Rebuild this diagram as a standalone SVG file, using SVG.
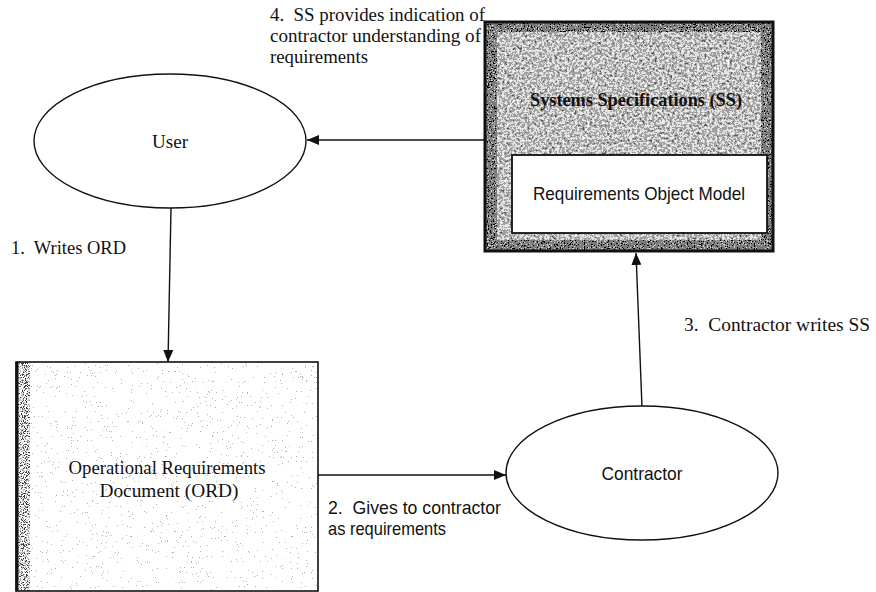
<svg xmlns="http://www.w3.org/2000/svg" width="876" height="592" viewBox="0 0 876 592">
<style>
.serif{font-family:"Liberation Serif","Times New Roman",serif;font-size:19px;fill:#111}
.sans{font-family:"Liberation Sans",Arial,sans-serif;font-size:19px;fill:#111}
.shape{fill:#fff;stroke:#111;stroke-width:1.4}
.conn{stroke:#111;stroke-width:1.4;fill:none}
</style>
<defs>
<marker id="ah" viewBox="0 0 12 10" refX="12" refY="5" markerWidth="12" markerHeight="10" markerUnits="userSpaceOnUse" orient="auto">
<path d="M0,0 L12,5 L0,10 Z" fill="#111"/>
</marker>
<filter id="darkSpeck" x="0" y="0" width="100%" height="100%">
<feTurbulence type="fractalNoise" baseFrequency="0.4" numOctaves="3" seed="4" result="n"/>
<feColorMatrix in="n" type="saturate" values="0" result="g"/>
<feComponentTransfer in="g" result="t">
<feFuncR type="discrete" tableValues="0 0.1 0.35 0.75 1 1"/>
<feFuncG type="discrete" tableValues="0 0.1 0.35 0.75 1 1"/>
<feFuncB type="discrete" tableValues="0 0.1 0.35 0.75 1 1"/>
<feFuncA type="linear" slope="0" intercept="1"/>
</feComponentTransfer>
<feComposite in="t" in2="SourceGraphic" operator="in"/>
</filter>
<filter id="edgeSpeck" x="0" y="0" width="100%" height="100%">
<feTurbulence type="fractalNoise" baseFrequency="0.7" numOctaves="2" seed="11" result="n"/>
<feColorMatrix in="n" type="saturate" values="0" result="g"/>
<feComponentTransfer in="g" result="t">
<feFuncR type="discrete" tableValues="0 0 0.2 0.6 1"/>
<feFuncG type="discrete" tableValues="0 0 0.2 0.6 1"/>
<feFuncB type="discrete" tableValues="0 0 0.2 0.6 1"/>
<feFuncA type="linear" slope="0" intercept="1"/>
</feComponentTransfer>
<feComposite in="t" in2="SourceGraphic" operator="in"/>
</filter>
<filter id="lightSpeck" x="0" y="0" width="100%" height="100%">
<feTurbulence type="fractalNoise" baseFrequency="0.8" numOctaves="2" seed="9" result="n"/>
<feColorMatrix in="n" type="saturate" values="0" result="g"/>
<feComponentTransfer in="g" result="c">
<feFuncR type="linear" slope="2.5" intercept="-0.75"/>
<feFuncG type="linear" slope="2.5" intercept="-0.75"/>
<feFuncB type="linear" slope="2.5" intercept="-0.75"/>
</feComponentTransfer>
<feComponentTransfer in="c" result="t">
<feFuncR type="discrete" tableValues="0.45 0.85 1 1 1 1 1 1 1 1 1 1 1 1 1 1 1 1 1 1 1 1 1 1 1"/>
<feFuncG type="discrete" tableValues="0.45 0.85 1 1 1 1 1 1 1 1 1 1 1 1 1 1 1 1 1 1 1 1 1 1 1"/>
<feFuncB type="discrete" tableValues="0.45 0.85 1 1 1 1 1 1 1 1 1 1 1 1 1 1 1 1 1 1 1 1 1 1 1"/>
<feFuncA type="linear" slope="0" intercept="1"/>
</feComponentTransfer>
<feComposite in="t" in2="SourceGraphic" operator="in"/>
</filter>
<filter id="stripSpeck" x="0" y="0" width="100%" height="100%">
<feTurbulence type="fractalNoise" baseFrequency="0.9" numOctaves="2" seed="21" result="n"/>
<feColorMatrix in="n" type="saturate" values="0" result="g"/>
<feComponentTransfer in="g" result="c">
<feFuncR type="linear" slope="4" intercept="-1.5"/>
<feFuncG type="linear" slope="4" intercept="-1.5"/>
<feFuncB type="linear" slope="4" intercept="-1.5"/>
</feComponentTransfer>
<feComponentTransfer in="c" result="t">
<feFuncR type="discrete" tableValues="0.05 0.3 0.6 1 1 1"/>
<feFuncG type="discrete" tableValues="0.05 0.3 0.6 1 1 1"/>
<feFuncB type="discrete" tableValues="0.05 0.3 0.6 1 1 1"/>
<feFuncA type="linear" slope="0" intercept="1"/>
</feComponentTransfer>
<feComposite in="t" in2="SourceGraphic" operator="in"/>
</filter>
</defs>

<g id="connectors">
<line class="conn" x1="484" y1="140" x2="307" y2="140" marker-end="url(#ah)"/>
<line class="conn" x1="171" y1="208" x2="168" y2="362" marker-end="url(#ah)"/>
<line class="conn" x1="318" y1="475" x2="506" y2="475" marker-end="url(#ah)"/>
<line class="conn" x1="642" y1="407" x2="636" y2="253" marker-end="url(#ah)"/>
</g>

<g id="user">
<ellipse class="shape" cx="170" cy="141" rx="136" ry="67"/>
<text class="serif" x="170" y="148" text-anchor="middle" textLength="36" lengthAdjust="spacingAndGlyphs">User</text>
</g>

<g id="systems-specifications">
<rect x="485" y="22" width="288" height="229" fill="#fff" filter="url(#darkSpeck)"/>
<rect x="485" y="22" width="12" height="229" fill="#fff" filter="url(#edgeSpeck)"/>
<rect x="761" y="22" width="12" height="229" fill="#fff" filter="url(#edgeSpeck)"/>
<rect x="485" y="22" width="288" height="10" fill="#fff" filter="url(#edgeSpeck)"/>
<rect x="485" y="240" width="288" height="11" fill="#fff" filter="url(#edgeSpeck)"/>
<rect x="485" y="22" width="288" height="229" fill="none" stroke="#111" stroke-width="3"/>
<text class="serif" x="636" y="106" text-anchor="middle" font-weight="bold" textLength="212" lengthAdjust="spacingAndGlyphs">Systems Specifications (SS)</text>
<g id="requirements-object-model">
<rect x="512" y="155" width="255" height="78" fill="#fff" stroke="#111" stroke-width="1.8"/>
<text class="sans" x="639" y="200" text-anchor="middle" textLength="212" lengthAdjust="spacingAndGlyphs">Requirements Object Model</text>
</g>
</g>

<g id="ord">
<rect x="16" y="362" width="302" height="229" fill="#fff" filter="url(#lightSpeck)"/>
<rect x="16" y="362" width="14" height="229" fill="#fff" filter="url(#stripSpeck)"/>
<rect x="16" y="362" width="302" height="229" fill="none" stroke="#111" stroke-width="1.6"/>
<line x1="17" y1="362" x2="17" y2="591" stroke="#111" stroke-width="3"/>
<text class="serif" x="167" y="474" text-anchor="middle" textLength="197" lengthAdjust="spacingAndGlyphs">Operational Requirements</text>
<text class="serif" x="169" y="497" text-anchor="middle" textLength="139" lengthAdjust="spacingAndGlyphs">Document (ORD)</text>
</g>

<g id="contractor">
<ellipse class="shape" cx="642" cy="473" rx="136" ry="67"/>
<text class="sans" x="642" y="480" text-anchor="middle" textLength="81" lengthAdjust="spacingAndGlyphs">Contractor</text>
</g>

<g id="labels">
<text class="serif" x="270" y="21" textLength="215" lengthAdjust="spacingAndGlyphs">4.&#160; SS provides indication of</text>
<text class="serif" x="270" y="42" textLength="211" lengthAdjust="spacingAndGlyphs">contractor understanding of</text>
<text class="serif" x="270" y="63" textLength="98" lengthAdjust="spacingAndGlyphs">requirements</text>
<text class="serif" x="11" y="254" textLength="115" lengthAdjust="spacingAndGlyphs">1.&#160; Writes ORD</text>
<text class="sans" x="328" y="514" textLength="173" lengthAdjust="spacingAndGlyphs">2.&#160; Gives to contractor</text>
<text class="sans" x="328" y="535" textLength="118" lengthAdjust="spacingAndGlyphs">as requirements</text>
<text class="serif" x="684" y="331" textLength="186" lengthAdjust="spacingAndGlyphs">3.&#160; Contractor writes SS</text>
</g>
</svg>
